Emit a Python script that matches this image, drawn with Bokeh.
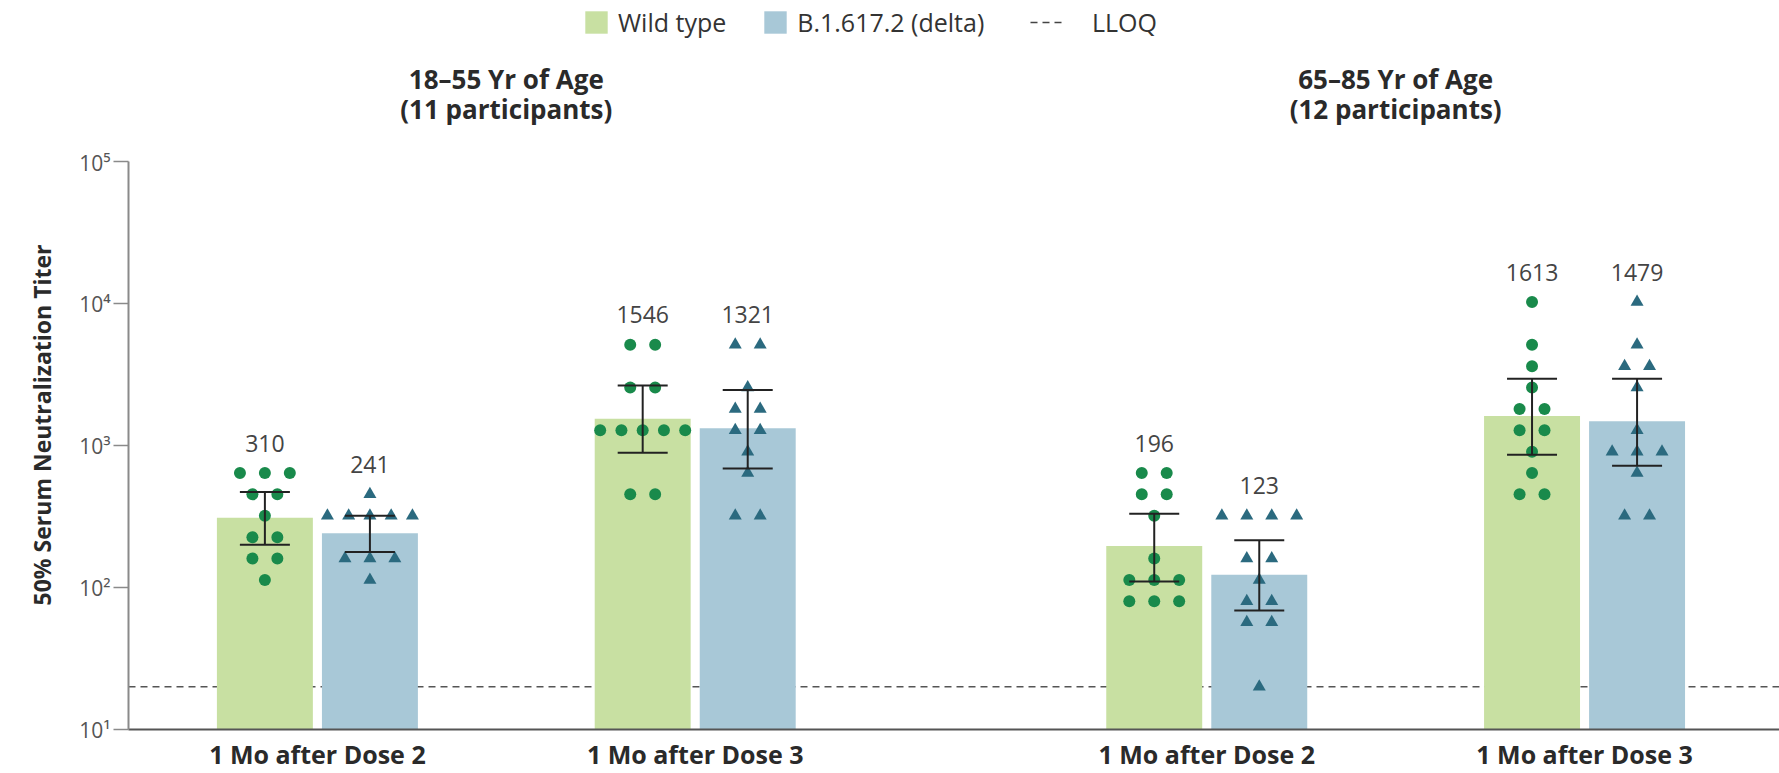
from bokeh.plotting import figure
from bokeh.models import (ColumnDataSource, Range1d, FixedTicker, Whisker, TeeHead,
                          Span, Legend, LegendItem, Title)
from bokeh.layouts import column
from bokeh.embed import file_html
from bokeh.resources import INLINE
from bokeh.core.properties import value

# ---------------- data ----------------
age_groups = ["18–55 Yr of Age", "65–85 Yr of Age"]
participants = ["(11 participants)", "(12 participants)"]
timepoints = ["1 Mo after Dose 2", "1 Mo after Dose 3"]
variants = ["Wild type", "B.1.617.2 (delta)"]
lloq_label = "LLOQ"
lloq = 20
y_title = "50% Serum Neutralization Titer"

# order of panels: (18-55, Dose 2), (18-55, Dose 3), (65-85, Dose 2), (65-85, Dose 3)
wt_gmt = [310, 1546, 196, 1613]
wt_ci_low = [200, 890, 110, 860]
wt_ci_high = [470, 2650, 330, 2950]
delta_gmt = [241, 1321, 123, 1479]
delta_ci_low = [178, 690, 69, 720]
delta_ci_high = [320, 2460, 215, 2950]

wt_points = [
    [640, 640, 640, 453, 453, 320, 226, 226, 160, 160, 113],
    [5120, 5120, 2560, 2560, 1280, 1280, 1280, 1280, 1280, 453, 453],
    [640, 640, 453, 453, 320, 160, 113, 113, 113, 80, 80, 80],
    [10240, 5120, 3620, 2560, 1810, 1810, 1280, 1280, 905, 640, 453, 453],
]
delta_points = [
    [453, 320, 320, 320, 320, 320, 160, 160, 160, 113],
    [5120, 5120, 2560, 1810, 1810, 1280, 1280, 905, 640, 320, 320],
    [320, 320, 320, 320, 160, 160, 113, 80, 80, 57, 57, 20],
    [10240, 5120, 3620, 3620, 2560, 1280, 905, 905, 905, 640, 320, 320],
]

y_ticks = [10, 100, 1000, 10000, 100000]
y_tick_labels = ["10¹", "10²", "10³", "10⁴", "10⁵"]

# ---------------- layout / style ----------------
FONT = "Open Sans"
WT_BAR = "#c8e0a2"
DL_BAR = "#a8c8d7"
WT_PT = "#198a4b"
DL_PT = "#2b6a7f"
TXT = "#2a2a2a"
NAN = float("nan")

GROUP_GAP = 0.354          # extra space between age groups (in category units)
BAR_W = 0.254
BAR_OFF = 0.139
X_END = 4.370

W = 1779
LEFT = 128
TOP_H = 148

cat_x = []
for g in range(len(age_groups)):
    for t in range(len(timepoints)):
        cat_x.append(0.5 + t + g * (len(timepoints) + GROUP_GAP))
group_x = [(cat_x[2 * g] + cat_x[2 * g + 1]) / 2 for g in range(len(age_groups))]
cat_labels = [timepoints[i % 2] for i in range(len(cat_x))]


def swarm(center, pts):
    xs = []
    seen = {}
    for v in pts:
        n = pts.count(v)
        i = seen.get(v, 0)
        seen[v] = i + 1
        sp = 0.066 if n < 2 else min(0.066, 0.225 / (n - 1))
        xs.append(center + (i - (n - 1) / 2) * sp)
    return xs


xr = Range1d(0, X_END)

# ---------------- top panel (legend + group titles) ----------------
top = figure(width=W, height=TOP_H, x_range=xr, y_range=Range1d(0, TOP_H),
             output_backend="svg", toolbar_location=None,
             x_axis_location=None, y_axis_location=None,
             min_border_left=LEFT, min_border_right=0, min_border_top=0, min_border_bottom=0)
top.outline_line_color = None
top.grid.visible = False

top.text(x=group_x, y=[69.7] * 2, text=age_groups, text_align="center",
         text_baseline="middle", text_font=value(FONT), text_font_style="bold",
         text_font_size="26px", text_color=TXT)
top.text(x=group_x, y=[39.7] * 2, text=participants, text_align="center",
         text_baseline="middle", text_font=value(FONT), text_font_style="bold",
         text_font_size="26px", text_color=TXT)

r_wt = top.quad(left=[NAN], right=[NAN], top=[NAN], bottom=[NAN],
                fill_color=WT_BAR, line_color=None)
r_dl = top.quad(left=[NAN], right=[NAN], top=[NAN], bottom=[NAN],
                fill_color=DL_BAR, line_color=None)
r_ll = top.line(x=[NAN, NAN], y=[NAN, NAN], line_dash="7 5", line_color="#444", line_width=1.5)

leg_style = dict(orientation="horizontal", glyph_height=28, padding=0, margin=0,
                 border_line_color=None, background_fill_alpha=0,
                 label_text_font=FONT, label_text_font_size="25px", label_text_color="#333")
legend1 = Legend(items=[LegendItem(label=variants[0], renderers=[r_wt]),
                        LegendItem(label=variants[1], renderers=[r_dl])],
                 location=(454, 109), glyph_width=28, label_standoff=8, spacing=35, **leg_style)
legend2 = Legend(items=[LegendItem(label=lloq_label, renderers=[r_ll])],
                 location=(902, 109), glyph_width=36, label_standoff=26, **leg_style)
top.add_layout(legend1)
top.add_layout(legend2)

# ---------------- main panel ----------------
p = figure(width=W, height=773 - TOP_H, x_range=xr, y_range=Range1d(10, 100000),
           y_axis_type="log", output_backend="svg", toolbar_location=None,
           min_border_left=LEFT, min_border_right=0, min_border_top=13, min_border_bottom=44)
p.outline_line_color = None
p.grid.visible = False

p.add_layout(Span(location=lloq, dimension="width", line_dash="7 5", line_color="#555",
                  line_width=1.5, level="underlay"))

wt_x = [c - BAR_OFF for c in cat_x]
dl_x = [c + BAR_OFF for c in cat_x]

p.vbar(x=wt_x, top=wt_gmt, bottom=10, width=BAR_W, fill_color=WT_BAR, line_color=None)
p.vbar(x=dl_x, top=delta_gmt, bottom=10, width=BAR_W, fill_color=DL_BAR, line_color=None)

wpx, wpy, dpx, dpy = [], [], [], []
for i in range(len(cat_x)):
    wpx += swarm(wt_x[i], wt_points[i]); wpy += wt_points[i]
    dpx += swarm(dl_x[i], delta_points[i]); dpy += delta_points[i]

p.scatter(x=wpx, y=wpy, marker="circle", size=12, fill_color=WT_PT, line_color=None)
p.scatter(x=dpx, y=dpy, marker="triangle", size=13, fill_color=DL_PT, line_color=None)

for xs, lo, hi in [(wt_x, wt_ci_low, wt_ci_high), (dl_x, delta_ci_low, delta_ci_high)]:
    src = ColumnDataSource(dict(x=xs, lo=lo, hi=hi))
    p.add_layout(Whisker(source=src, base="x", lower="lo", upper="hi", level="overlay",
                         line_color="#222", line_width=2,
                         upper_head=TeeHead(size=50, line_color="#222", line_width=2),
                         lower_head=TeeHead(size=50, line_color="#222", line_width=2)))

lab_x = wt_x + dl_x
lab_y = [max(v) for v in wt_points] + [max(v) for v in delta_points]
lab_t = [str(v) for v in wt_gmt] + [str(v) for v in delta_gmt]
p.text(x=lab_x, y=lab_y, text=lab_t, y_offset=-30, text_align="center",
       text_baseline="middle", text_font=value(FONT), text_font_size="23px", text_color="#444")

# axes
ya = p.yaxis[0]
ya.ticker = FixedTicker(ticks=y_ticks)
ya.major_label_overrides = {t: l for t, l in zip(y_ticks, y_tick_labels)}
ya.major_tick_out = 15
ya.major_tick_in = 0
ya.minor_tick_line_color = None
ya.axis_line_color = "#8a8a8a"
ya.axis_line_width = 2
ya.major_tick_line_color = "#8a8a8a"
ya.major_tick_line_width = 1.5
ya.major_label_text_font = FONT
ya.major_label_text_font_size = "21px"
ya.major_label_text_color = "#555"
ya.major_label_standoff = 3

p.add_layout(Title(text=y_title, align="right", offset=83, standoff=38,
                   text_font=FONT, text_font_style="bold", text_font_size="23px",
                   text_color=TXT), "left")

xa = p.xaxis[0]
xa.ticker = FixedTicker(ticks=cat_x)
xa.major_label_overrides = {x: l for x, l in zip(cat_x, cat_labels)}
xa.major_tick_line_color = None
xa.minor_tick_line_color = None
xa.major_tick_out = 0
xa.axis_line_color = "#555"
xa.axis_line_width = 2
xa.major_label_text_font = FONT
xa.major_label_text_font_style = "bold"
xa.major_label_text_font_size = "25px"
xa.major_label_text_color = TXT
xa.major_label_standoff = 7

layout = column(top, p, spacing=0)
open("out.html", "w").write(file_html(layout, INLINE))
